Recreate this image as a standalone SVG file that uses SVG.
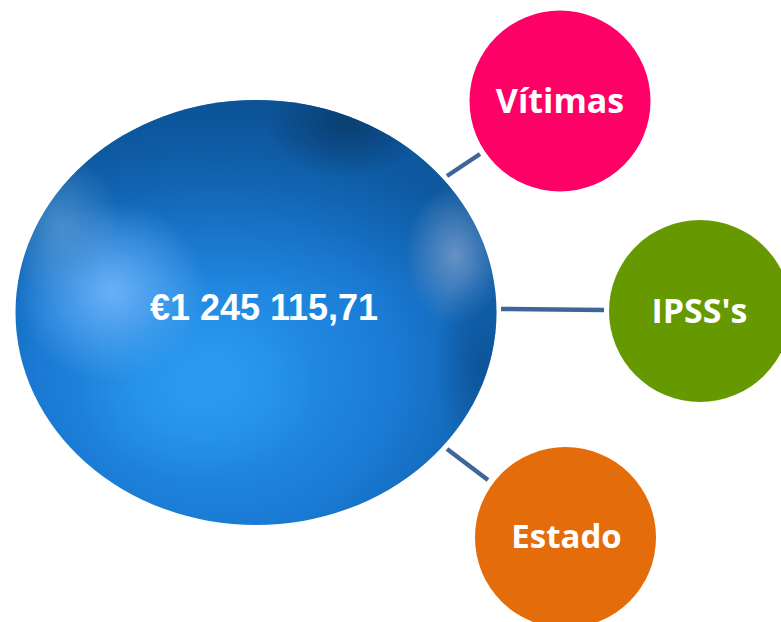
<svg xmlns="http://www.w3.org/2000/svg" width="781" height="622" viewBox="0 0 781 622">
<style>
.conn{stroke:#3e6698;stroke-width:4.5;fill:none}
.lbl{font-family:"Open Sans","DejaVu Sans",sans-serif;font-weight:bold;fill:#ffffff;text-anchor:middle}
.big{font-family:"Liberation Sans",Arial,sans-serif;font-weight:bold;fill:#ffffff;text-anchor:middle;font-size:36px}
</style>
<defs>
<radialGradient id="gBase" cx="0.42" cy="0.64" r="0.62">
<stop offset="0" stop-color="#2898ee"/>
<stop offset="0.6" stop-color="#1a7ad4"/>
<stop offset="1" stop-color="#0e5ea8"/>
</radialGradient>
<linearGradient id="gTop" x1="0" y1="0" x2="0" y2="1">
<stop offset="0" stop-color="#0b4d8e" stop-opacity="0.65"/>
<stop offset="0.45" stop-color="#0b4d8e" stop-opacity="0"/>
</linearGradient>
<radialGradient id="bLight"><stop offset="0" stop-color="#6db3f8" stop-opacity="0.95"/><stop offset="1" stop-color="#6db3f8" stop-opacity="0"/></radialGradient>
<radialGradient id="bGrey"><stop offset="0" stop-color="#5b9bd4" stop-opacity="0.7"/><stop offset="1" stop-color="#5b9bd4" stop-opacity="0"/></radialGradient>
<radialGradient id="bDark"><stop offset="0" stop-color="#0a3c6c" stop-opacity="0.9"/><stop offset="1" stop-color="#0a3c6c" stop-opacity="0"/></radialGradient>
<radialGradient id="bEdge"><stop offset="0" stop-color="#6b94c6" stop-opacity="0.95"/><stop offset="1" stop-color="#6b94c6" stop-opacity="0"/></radialGradient>
<radialGradient id="bDeep"><stop offset="0" stop-color="#0d4f92" stop-opacity="0.8"/><stop offset="1" stop-color="#0d4f92" stop-opacity="0"/></radialGradient>
<radialGradient id="bBright"><stop offset="0" stop-color="#2c9cf2" stop-opacity="0.8"/><stop offset="1" stop-color="#2c9cf2" stop-opacity="0"/></radialGradient>
<clipPath id="clipE"><ellipse cx="256" cy="312.5" rx="240.5" ry="212.5"/></clipPath>
</defs>
<g id="connectors">
<line class="conn" x1="447" y1="176" x2="480" y2="154"/>
<line class="conn" x1="501" y1="309" x2="604" y2="310"/>
<line class="conn" x1="447" y1="449" x2="488" y2="480"/>
</g>
<g id="node-total">
<ellipse cx="256" cy="312.5" rx="240.5" ry="212.5" fill="url(#gBase)"/>
<g clip-path="url(#clipE)">
<rect x="0" y="90" width="520" height="440" fill="url(#gTop)"/>
<ellipse cx="112" cy="292" rx="95" ry="90" fill="url(#bLight)"/>
<ellipse cx="60" cy="225" rx="60" ry="70" fill="url(#bGrey)"/>
<ellipse cx="345" cy="122" rx="80" ry="55" fill="url(#bDark)"/>
<ellipse cx="455" cy="255" rx="50" ry="70" fill="url(#bEdge)"/>
<ellipse cx="480" cy="365" rx="45" ry="95" fill="url(#bDeep)"/>
<ellipse cx="195" cy="390" rx="120" ry="90" fill="url(#bBright)"/>
</g>
<text class="big" x="264" y="320">€1 245 115,71</text>
</g>
<g id="node-vitimas">
<circle cx="560" cy="101" r="90.5" fill="#ff0066"/>
<text class="lbl" x="560" y="113" font-size="34">Vítimas</text>
</g>
<g id="node-ipss">
<circle cx="700" cy="311" r="91" fill="#669900"/>
<text class="lbl" x="699.5" y="323" font-size="34">IPSS's</text>
</g>
<g id="node-estado">
<circle cx="565.5" cy="537.5" r="90.5" fill="#e46c0a"/>
<text class="lbl" x="566.5" y="548" font-size="33">Estado</text>
</g>
</svg>
